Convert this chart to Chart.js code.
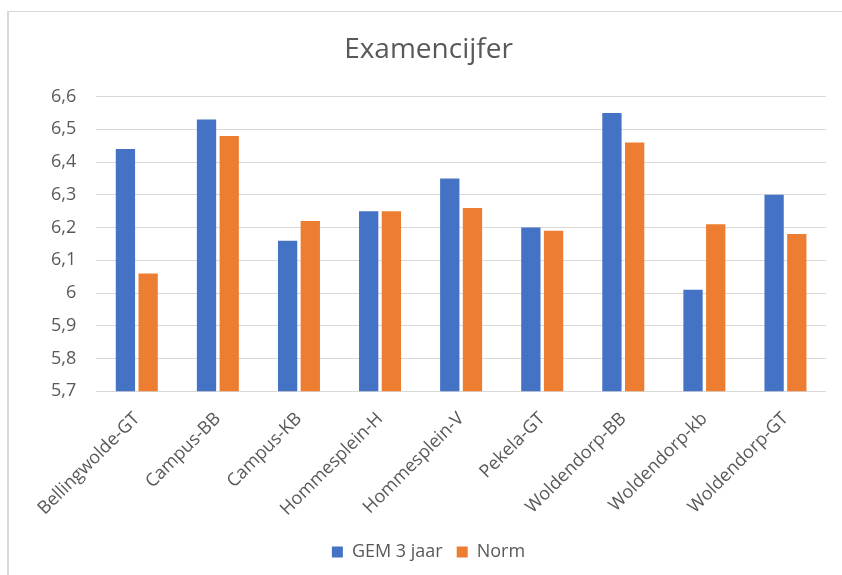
<!DOCTYPE html>
<html lang="nl">
<head>
  <meta charset="UTF-8" />
  <title>Examencijfer</title>
  <script src="https://cdn.jsdelivr.net/npm/chart.js"></script>
  <style>
    html, body {
      margin: 0;
      padding: 0;
      background: #ffffff;
      width: 842px;
      height: 575px;
      overflow: hidden;
    }
    .frame {
      position: absolute;
      left: 7px;
      top: 11px;
      width: 835px;
      height: 564px;
      border-top: 1px solid #d9d9d9;
      border-left: 2px solid #d9d9d9;
      box-sizing: border-box;
    }
    canvas { display: block; }
  </style>
</head>
<body>
  <div class="frame">
    <canvas id="chart" width="833" height="563"></canvas>
  </div>

  <script>
    const schools = ['Bellingwolde-GT', 'Campus-BB', 'Campus-KB', 'Hommesplein-H', 'Hommesplein-V',
                     'Pekela-GT', 'Woldendorp-BB', 'Woldendorp-kb', 'Woldendorp-GT'];
    const gem3jaar = [6.44, 6.53, 6.16, 6.25, 6.35, 6.20, 6.55, 6.01, 6.30];
    const norm     = [6.06, 6.48, 6.22, 6.25, 6.26, 6.19, 6.46, 6.21, 6.18];
    const yMin = 5.7, yMax = 6.6, yStep = 0.1;

    const textColor = '#595959';
    const font = 'Open Sans';

    new Chart(document.getElementById('chart'), {
      type: 'bar',
      data: {
        labels: schools,
        datasets: [
          { label: 'GEM 3 jaar', data: gem3jaar, backgroundColor: '#4472c4' },
          { label: 'Norm', data: norm, backgroundColor: '#ed7d31' }
        ]
      },
      options: {
        responsive: false,
        animation: false,
        categoryPercentage: 0.56,
        barPercentage: 0.85,
        layout: { padding: { left: 22, right: 16, top: 0, bottom: 4 } },
        plugins: {
          title: {
            display: true,
            text: 'Examencijfer',
            color: textColor,
            font: { family: font, size: 28, weight: 'normal' },
            padding: { top: 21, bottom: 30 }
          },
          legend: {
            position: 'bottom',
            labels: {
              color: textColor,
              font: { family: font, size: 18 },
              boxWidth: 11,
              boxHeight: 11,
              padding: 14
            }
          },
          tooltip: { enabled: false }
        },
        scales: {
          x: {
            grid: { display: false },
            border: { display: false },
            ticks: {
              color: textColor,
              font: { family: font, size: 18 },
              minRotation: 45,
              maxRotation: 45,
              padding: 9
            }
          },
          y: {
            min: yMin,
            max: yMax,
            grid: { color: '#d9d9d9', lineWidth: 1, drawTicks: false },
            border: { display: false },
            ticks: {
              stepSize: yStep,
              color: textColor,
              font: { family: font, size: 18 },
              padding: 20,
              callback: v => String(Number(v.toFixed(1))).replace('.', ',')
            }
          }
        }
      }
    });
  </script>
</body>
</html>
